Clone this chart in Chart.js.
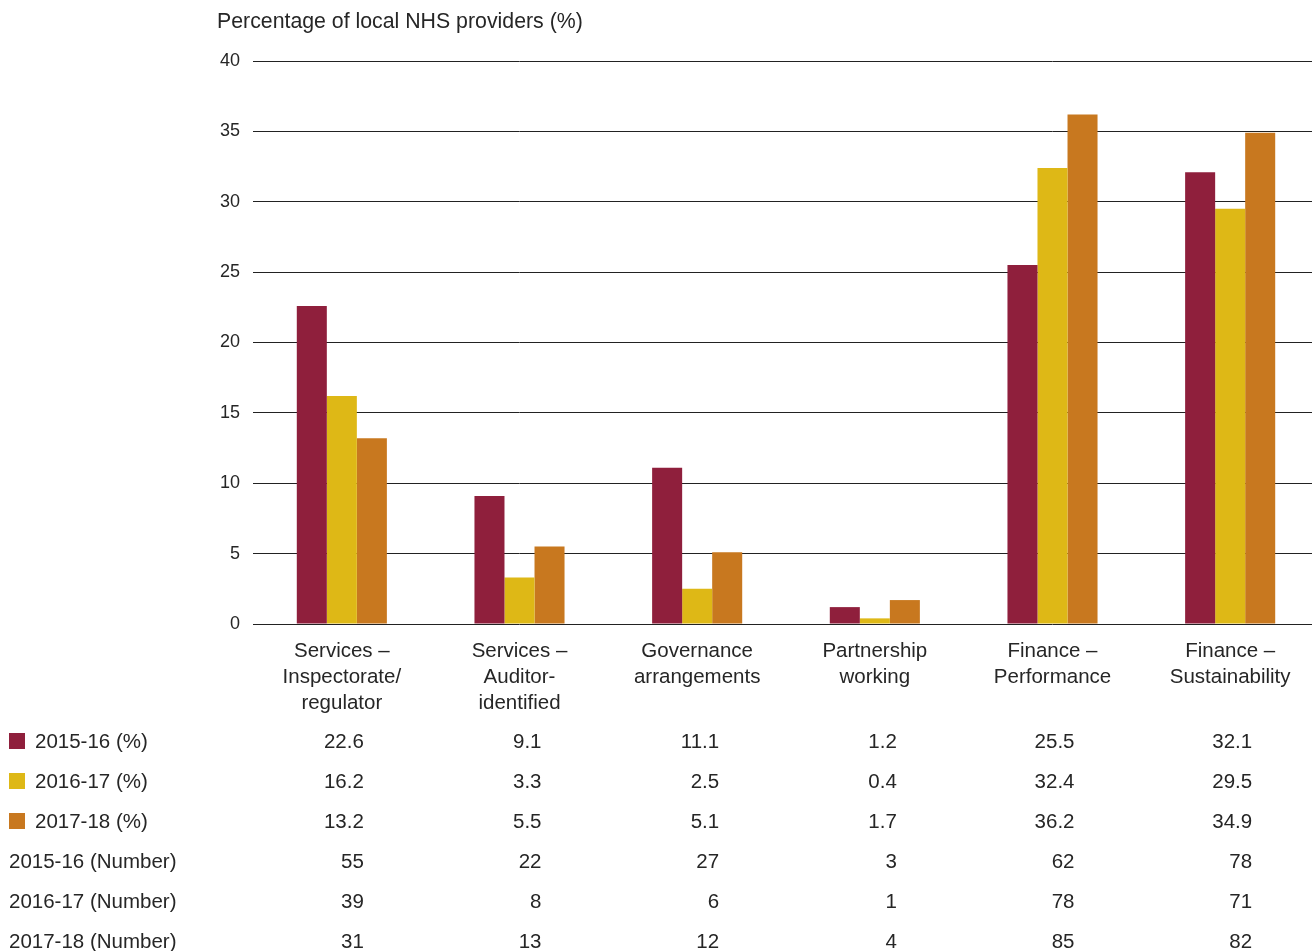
<!DOCTYPE html>
<html>
<head>
<meta charset="utf-8">
<script src="https://cdn.jsdelivr.net/npm/chart.js@4/dist/chart.umd.min.js"></script>
<style>
  html, body { margin: 0; padding: 0; background: #fff; overflow: hidden; }
  canvas { display: block; }
</style>
</head>
<body>
<canvas id="grafico" width="1319" height="951"></canvas>
<script>
const categorias = [
    ['Services –', 'Inspectorate/', 'regulator'],
    ['Services –', 'Auditor-', 'identified'],
    ['Governance', 'arrangements'],
    ['Partnership', 'working'],
    ['Finance –', 'Performance'],
    ['Finance –', 'Sustainability']
];

const pct1516 = [22.6, 9.1, 11.1, 1.2, 25.5, 32.1];
const pct1617 = [16.2, 3.3, 2.5, 0.4, 32.4, 29.5];
const pct1718 = [13.2, 5.5, 5.1, 1.7, 36.2, 34.9];

const num1516 = [55, 22, 27, 3, 62, 78];
const num1617 = [39, 8, 6, 1, 78, 71];
const num1718 = [31, 13, 12, 4, 85, 82];

const etiquetasSerie = ['2015-16 (%)', '2016-17 (%)', '2017-18 (%)'];
const etiquetasNumero = ['2015-16 (Number)', '2016-17 (Number)', '2017-18 (Number)'];
const tituloEje = 'Percentage of local NHS providers (%)';

const COLORES = {
    S1: '#8F1F3C',
    S2: '#DEB816',
    S3: '#C8781F',
    TEXTO: '#262626',
    GRID: '#222222'
};
const FUENTE = "'Liberation Sans', Arial, sans-serif";

// Tabla de valores bajo el eje y título del eje
const tablaPlugin = {
    id: 'tabla',
    afterDraw(chart) {
        const ctx = chart.ctx;
        const x = chart.scales.x;
        ctx.save();
        ctx.fillStyle = COLORES.TEXTO;
        ctx.textBaseline = 'middle';
        ctx.textAlign = 'left';
        ctx.font = `21.3px ${FUENTE}`;
        ctx.fillText(tituloEje, 217, 22);

        ctx.font = `20.5px ${FUENTE}`;
        const filas = [
            { label: etiquetasSerie[0], color: COLORES.S1, datos: pct1516, dec: 1 },
            { label: etiquetasSerie[1], color: COLORES.S2, datos: pct1617, dec: 1 },
            { label: etiquetasSerie[2], color: COLORES.S3, datos: pct1718, dec: 1 },
            { label: etiquetasNumero[0], datos: num1516, dec: 0 },
            { label: etiquetasNumero[1], datos: num1617, dec: 0 },
            { label: etiquetasNumero[2], datos: num1718, dec: 0 }
        ];

        filas.forEach((fila, i) => {
            const y = 742 + i * 40;
            ctx.textAlign = 'left';
            if (fila.color) {
                ctx.fillStyle = fila.color;
                ctx.fillRect(9, y - 9, 16, 16);
                ctx.fillStyle = COLORES.TEXTO;
                ctx.fillText(fila.label, 35, y);
            } else {
                ctx.fillText(fila.label, 9, y);
            }
            ctx.textAlign = 'right';
            fila.datos.forEach((v, j) => {
                const cx = x.getPixelForValue(j);
                ctx.fillText(v.toFixed(fila.dec), cx + 22, y);
            });
        });
        ctx.restore();
    }
};

function dibujarGrafico() {
    const ctx = document.getElementById('grafico').getContext('2d');
    const serie = (label, data, color) => ({
        label: label,
        data: data,
        backgroundColor: color,
        borderWidth: 0,
        barPercentage: 1,
        categoryPercentage: 0.507
    });

    new Chart(ctx, {
        type: 'bar',
        data: {
            labels: categorias,
            datasets: [
                serie(etiquetasSerie[0], pct1516, COLORES.S1),
                serie(etiquetasSerie[1], pct1617, COLORES.S2),
                serie(etiquetasSerie[2], pct1718, COLORES.S3)
            ]
        },
        options: {
            responsive: false,
            animation: false,
            devicePixelRatio: 1,
            layout: { padding: { top: 61, left: 0, right: 0, bottom: 0 } },
            plugins: {
                legend: { display: false },
                tooltip: { enabled: false }
            },
            scales: {
                x: {
                    grid: { display: false },
                    border: { display: false },
                    ticks: {
                        color: COLORES.TEXTO,
                        font: { family: FUENTE, size: 20.5, lineHeight: 1.27 },
                        padding: 6,
                        maxRotation: 0,
                        autoSkip: false
                    },
                    afterFit(scale) { scale.height = 327; }
                },
                y: {
                    min: 0,
                    max: 40,
                    grid: { color: COLORES.GRID, lineWidth: 1, drawTicks: false },
                    border: { display: false },
                    ticks: {
                        stepSize: 5,
                        color: COLORES.TEXTO,
                        font: { family: FUENTE, size: 18 },
                        padding: 13
                    },
                    afterFit(scale) { scale.width = 253; }
                }
            }
        },
        plugins: [tablaPlugin]
    });
}

dibujarGrafico();
</script>
</body>
</html>
